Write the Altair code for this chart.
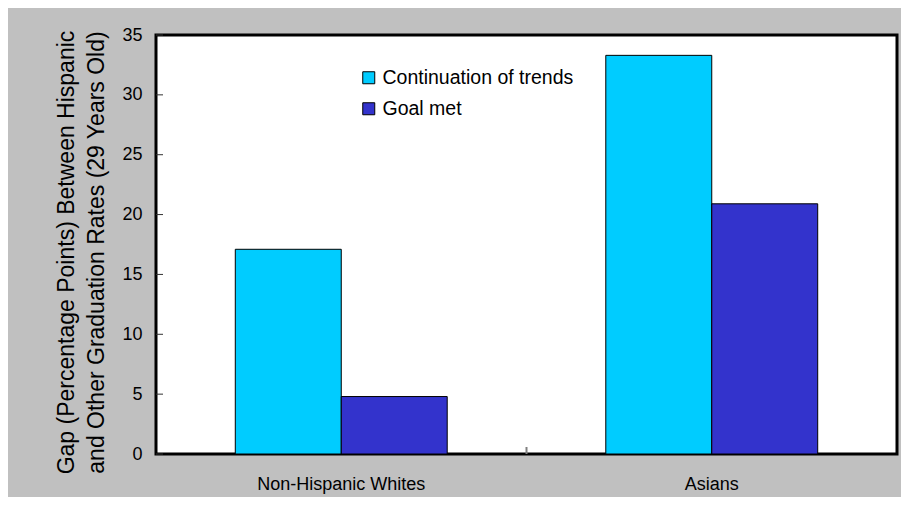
import altair as alt
import pandas as pd

# ---- data ----
categories = ["Non-Hispanic Whites", "Asians"]
series = ["Continuation of trends", "Goal met"]
continuation = [17.1, 33.3]
goal_met = [4.8, 20.9]
y_ticks = [0, 5, 10, 15, 20, 25, 30, 35]
colors = ["#00CCFF", "#3333CC"]
y_title = ["Gap (Percentage Points) Between Hispanic",
           "and Other Graduation Rates (29 Years Old)"]

rows = []
for i, c in enumerate(categories):
    rows.append({"group": c, "series": series[0], "value": continuation[i]})
    rows.append({"group": c, "series": series[1], "value": goal_met[i]})
df = pd.DataFrame(rows)
tick_df = pd.DataFrame({"value": y_ticks})
one_df = pd.DataFrame({"a": [0]})

FONT = "Liberation Sans"
W, H = 741, 419
ydom = alt.Scale(domain=[0, 35], nice=False, zero=True)
yaxis = alt.Axis(values=y_ticks, title=y_title, grid=False, ticks=False,
                 domain=False, labelFontSize=18, labelPadding=14,
                 labelColor="black", labelFont=FONT,
                 titleFont=FONT, titleFontSize=23, titleFontWeight="normal",
                 titleColor="black", titleLineHeight=30,
                 titleAngle=270, titleAlign="center",
                 titleBaseline="alphabetic", titleX=-83, titleY=217)

bars = alt.Chart(df).mark_bar(stroke="black", strokeWidth=1).encode(
    x=alt.X("group:N", sort=categories,
            scale=alt.Scale(paddingInner=0.428, paddingOuter=0.214),
            axis=alt.Axis(title=None, labelAngle=0, ticks=False, domain=False,
                          labelFontSize=18, labelPadding=21, labelColor="black",
                          labelFont=FONT)),
    xOffset=alt.XOffset("series:N", sort=series,
                        scale=alt.Scale(paddingInner=0, paddingOuter=0)),
    y=alt.Y("value:Q", scale=ydom, axis=yaxis),
    color=alt.Color("series:N", sort=series,
                    scale=alt.Scale(domain=series, range=colors),
                    legend=alt.Legend(title=None, orient="none", legendX=203, legendY=33,
                                      symbolType="square", symbolSize=144,
                                      symbolStrokeColor="black", symbolStrokeWidth=1,
                                      symbolOpacity=1, labelLimit=500,
                                      labelFontSize=19.5, labelFont=FONT,
                                      labelColor="black", labelOffset=4,
                                      rowPadding=10, padding=0)),
)

yticks = alt.Chart(tick_df).mark_rule(color="#333333", strokeWidth=1).encode(
    y=alt.Y("value:Q", scale=ydom, axis=yaxis),
    x=alt.value(0), x2=alt.value(7),
)

midtick = alt.Chart(one_df).mark_rule(color="#808080", strokeWidth=2).encode(
    x=alt.value(W / 2), y=alt.value(H), y2=alt.value(H - 7),
)

chart = alt.layer(bars, yticks, midtick).properties(
    width=W, height=H,
    background="#c0c0c0",
    padding={"left": 148, "top": 27, "right": 4, "bottom": 43},
    autosize=alt.AutoSizeParams(type="none"),
).configure(
    font=FONT
).configure_view(
    fill="white", stroke="black", strokeWidth=3
)

chart.save("out.html", embed_options={"renderer": "svg", "actions": False})
